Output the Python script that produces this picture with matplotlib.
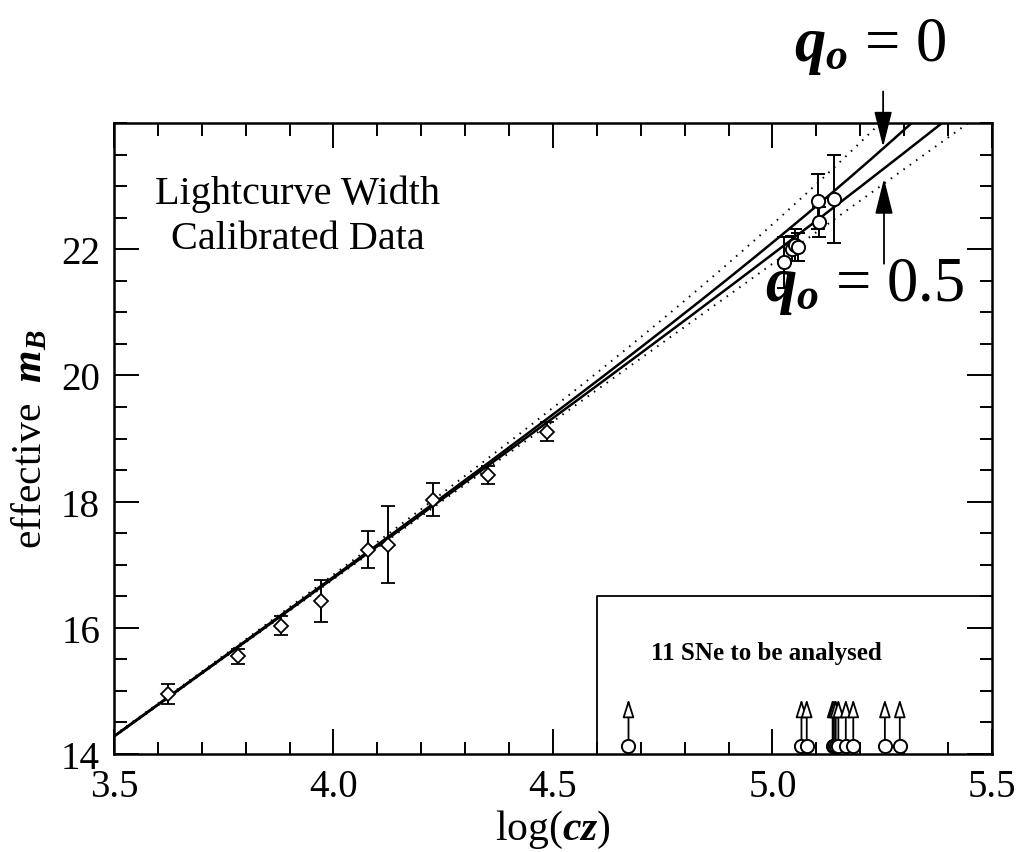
import numpy as np
import matplotlib
matplotlib.use("Agg")
import matplotlib.pyplot as plt
from matplotlib.ticker import MultipleLocator, FixedLocator, FormatStrFormatter

plt.rcParams['font.family'] = ['Liberation Serif', 'DejaVu Serif']
plt.rcParams['mathtext.fontset'] = 'custom'
plt.rcParams['mathtext.rm'] = 'Liberation Serif'
plt.rcParams['mathtext.it'] = 'Liberation Serif:italic'
plt.rcParams['mathtext.bf'] = 'Liberation Serif:bold'
plt.rcParams['mathtext.bfit'] = 'Liberation Serif:italic:bold'

# ---- data ----
low_logcz = [3.622, 3.782, 3.880, 3.972, 4.079, 4.125, 4.227, 4.353, 4.487]
low_mB = [14.95, 15.55, 16.03, 16.42, 17.24, 17.32, 18.03, 18.42, 19.11]
low_err = [0.16, 0.12, 0.15, 0.33, 0.30, 0.61, 0.26, 0.14, 0.15]

high_logcz = [5.027, 5.045, 5.052, 5.058, 5.103, 5.106, 5.141]
high_mB = [21.79, 22.01, 22.07, 22.04, 22.76, 22.43, 22.80]
high_err = [0.41, 0.20, 0.25, 0.22, 0.44, 0.24, 0.70]

pending_logcz = [4.672, 5.066, 5.078, 5.137, 5.140, 5.144, 5.150, 5.167, 5.184, 5.256, 5.290]
pending_mB = 14.13
pending_arrow_top = 14.87

y_tick_values = [14, 16, 18, 20, 22]

# model curves: q0 values and zero point
q0_solid = [0.0, 0.5]
q0_dotted = [-1.0, 1.0]
zero_point = -3.23
c_kms = 299792.458


def dl_over_z(z, q0):
    if q0 > 0:
        d = (q0 * z + (q0 - 1) * (np.sqrt(1 + 2 * q0 * z) - 1)) / q0 ** 2
        return d / z
    return 1 + (1 - q0) * z / 2


fig = plt.figure(figsize=(10.23, 8.53), dpi=100)
ax = fig.add_axes([0.1114, 0.1149, 0.8583, 0.7397])

L = np.linspace(3.5, 5.5, 400)
z = 10 ** L / c_kms
for q0 in q0_dotted:
    m = 5 * L + zero_point + 5 * np.log10(dl_over_z(z, q0))
    ax.plot(L, m, color='black', lw=1.4, ls=(0, (0.8, 3.2)), zorder=2)
for q0 in q0_solid:
    m = 5 * L + zero_point + 5 * np.log10(dl_over_z(z, q0))
    ax.plot(L, m, color='black', lw=1.8, zorder=2)

ax.errorbar(low_logcz, low_mB, yerr=low_err, fmt='D', ms=7, mfc='white',
            mec='black', mew=1.3, ecolor='black', elinewidth=1.4,
            capsize=5, capthick=1.4, zorder=4)
ax.errorbar(high_logcz, high_mB, yerr=high_err, fmt='o', ms=9.5, mfc='white',
            mec='black', mew=1.4, ecolor='black', elinewidth=1.4,
            capsize=5, capthick=1.4, zorder=4)

# inset box of SNe to be analysed
ax.plot([4.6, 4.6, 5.5], [14.0, 16.5, 16.5], color='black', lw=1.3, zorder=3)
ax.text(4.987, 15.61, '11 SNe to be analysed', ha='center', va='center',
        fontsize=18, fontweight='bold')
for x in pending_logcz:
    ax.annotate('', xy=(x, pending_arrow_top), xytext=(x, pending_mB),
                arrowprops=dict(arrowstyle='-|>,head_length=1.1,head_width=0.35',
                                fc='white', ec='black', lw=1.3,
                                shrinkA=0, shrinkB=0), zorder=3)
ax.plot(pending_logcz, [pending_mB] * len(pending_logcz), 'o', ms=9.5,
        mfc='white', mec='black', mew=1.4, zorder=5, clip_on=False)

ax.text(3.919, 22.53, 'Lightcurve Width\nCalibrated Data', ha='center',
        va='center', fontsize=29, linespacing=1.3)

# q0 labels and arrows
ax.annotate('', xy=(5.252, 23.62), xytext=(5.252, 24.5),
            arrowprops=dict(arrowstyle='-|>,head_length=2.2,head_width=0.55',
                            fc='black', ec='black', lw=1.3, shrinkA=0, shrinkB=0),
            annotation_clip=False)
ax.annotate('', xy=(5.254, 23.12), xytext=(5.254, 21.77),
            arrowprops=dict(arrowstyle='-|>,head_length=2.2,head_width=0.55',
                            fc='black', ec='black', lw=1.3, shrinkA=0, shrinkB=0),
            annotation_clip=False)
fig.text(0.851, 0.945, r'$\mathbfit{q_o}$ = 0', ha='center', va='center',
         fontsize=45)
fig.text(0.845, 0.664, r'$\mathbfit{q_o}$ = 0.5', ha='center', va='center',
         fontsize=45)

ax.set_xlim(3.5, 5.5)
ax.set_ylim(14, 24)
ax.xaxis.set_major_locator(MultipleLocator(0.5))
ax.xaxis.set_minor_locator(MultipleLocator(0.1))
ax.yaxis.set_major_locator(FixedLocator(y_tick_values))
ax.yaxis.set_minor_locator(MultipleLocator(0.5))
ax.xaxis.set_major_formatter(FormatStrFormatter('%.1f'))
ax.tick_params(which='both', direction='in', top=True, right=True,
               labelsize=28, width=1.4, pad=10)
ax.tick_params(which='major', length=18)
ax.tick_params(which='minor', length=9)
for s in ax.spines.values():
    s.set_linewidth(1.8)

ax.set_xlabel(r'log($\mathbfit{cz}$)', fontsize=30, labelpad=2)
ax.set_ylabel(r'effective  $\mathbfit{m_B}$', fontsize=30, labelpad=8)

fig.savefig('out.png', dpi=100)
